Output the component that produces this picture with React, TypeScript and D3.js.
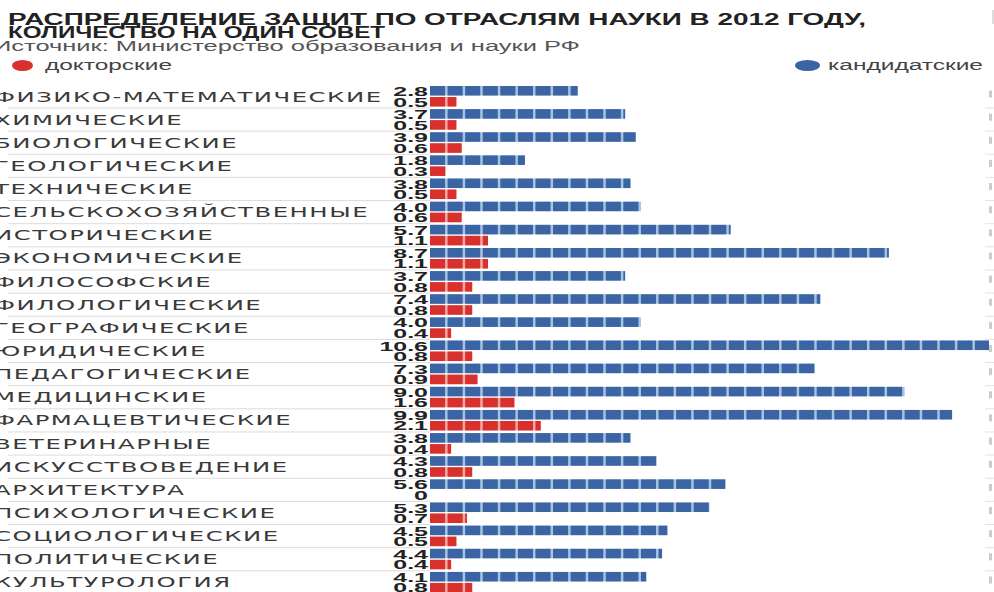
import React from "react";
import * as d3 from "d3";

const categories = [
  "ФИЗИКО-МАТЕМАТИЧЕСКИЕ",
  "ХИМИЧЕСКИЕ",
  "БИОЛОГИЧЕСКИЕ",
  "ГЕОЛОГИЧЕСКИЕ",
  "ТЕХНИЧЕСКИЕ",
  "СЕЛЬСКОХОЗЯЙСТВЕННЫЕ",
  "ИСТОРИЧЕСКИЕ",
  "ЭКОНОМИЧЕСКИЕ",
  "ФИЛОСОФСКИЕ",
  "ФИЛОЛОГИЧЕСКИЕ",
  "ГЕОГРАФИЧЕСКИЕ",
  "ЮРИДИЧЕСКИЕ",
  "ПЕДАГОГИЧЕСКИЕ",
  "МЕДИЦИНСКИЕ",
  "ФАРМАЦЕВТИЧЕСКИЕ",
  "ВЕТЕРИНАРНЫЕ",
  "ИСКУССТВОВЕДЕНИЕ",
  "АРХИТЕКТУРА",
  "ПСИХОЛОГИЧЕСКИЕ",
  "СОЦИОЛОГИЧЕСКИЕ",
  "ПОЛИТИЧЕСКИЕ",
  "КУЛЬТУРОЛОГИЯ",
];

const candidate = [2.8, 3.7, 3.9, 1.8, 3.8, 4.0, 5.7, 8.7, 3.7, 7.4, 4.0, 10.6, 7.3, 9.0, 9.9, 3.8, 4.3, 5.6, 5.3, 4.5, 4.4, 4.1];
const doctor = [0.5, 0.5, 0.6, 0.3, 0.5, 0.6, 1.1, 1.1, 0.8, 0.8, 0.4, 0.8, 0.9, 1.6, 2.1, 0.4, 0.8, 0, 0.7, 0.5, 0.4, 0.8];

const title1 = "РАСПРЕДЕЛЕНИЕ ЗАЩИТ ПО ОТРАСЛЯМ НАУКИ В 2012 ГОДУ,";
const title2 = "КОЛИЧЕСТВО НА ОДИН СОВЕТ";
const source = "Источник: Министерство образования и науки РФ";
const legendDoctor = "докторские";
const legendCandidate = "кандидатские";
const unitStep = 1 / 3; // one square = 1/3 defence

const W = 994;
const H = 592;
const BLUE = "#3a64a3";
const BLUE_LIGHT = "#a8c2e2";
const RED = "#d8302c";
const RED_LIGHT = "#f2a9a6";

function fmt(v: number) {
  return v === 0 ? "0" : v.toFixed(1);
}

function SquareBar({ value, x, y, h, fill, light }: any) {
  if (value <= 0) return null;
  const end = x(value);
  const x0 = x(0);
  const step = x(unitStep) - x0;
  const n = Math.ceil(value / unitStep - 1e-9);
  const squares = d3.range(n).map((i) => {
    const sx = x0 + i * step;
    const ex = Math.min(sx + step - 2.5, end);
    return { sx, w: Math.max(0, ex - sx) };
  });
  return (
    <g>
      <rect x={x0} y={y} width={end - x0} height={h} fill={light} />
      {squares.map((s, i) => (
        <rect key={i} x={s.sx} y={y} width={s.w} height={h} fill={fill} />
      ))}
    </g>
  );
}

export default function App() {
  const x = d3.scaleLinear().domain([0, 10.6]).range([430, 989]);
  const y = d3
    .scaleBand<number>()
    .domain(d3.range(categories.length))
    .range([84.5, 84.5 + 23.14 * categories.length])
    .padding(0);

  return (
    <svg
      width={W}
      height={H}
      style={{ position: "absolute", left: 0, top: 0, display: "block", background: "#fff" }}
      fontFamily="'Liberation Sans', Arial, sans-serif"
    >
      <rect width={W} height={H} fill="#fff" />
      {/* title */}
      <text x={8} y={24.5} fontSize={16} fontWeight="bold" fill="#222" textLength={858} lengthAdjust="spacingAndGlyphs">
        {title1}
      </text>
      <text x={8} y={37.5} fontSize={16} fontWeight="bold" fill="#222" textLength={377} lengthAdjust="spacingAndGlyphs">
        {title2}
      </text>
      <text x={-7} y={50.5} fontSize={14} fill="#555" textLength={587} lengthAdjust="spacingAndGlyphs">
        {source}
      </text>
      {/* legend */}
      <ellipse cx={22.5} cy={65.5} rx={10.5} ry={5.5} fill={RED} />
      <text x={45} y={70} fontSize={14} fill="#444" textLength={127} lengthAdjust="spacingAndGlyphs">
        {legendDoctor}
      </text>
      <ellipse cx={807.5} cy={65.5} rx={12.5} ry={5.5} fill={BLUE} />
      <text x={828} y={70} fontSize={14} fill="#444" textLength={155} lengthAdjust="spacingAndGlyphs">
        {legendCandidate}
      </text>
      <line x1={993} x2={993} y1={10} y2={24} stroke="#bbb" />

      {categories.map((c, i) => {
        const top = y(i)!;
        return (
          <g key={c}>
            <line x1={8} x2={430} y1={top + 23.5} y2={top + 23.5} stroke="#dcdcdc" strokeWidth={1} />
            <text
              transform={`translate(-6,${top + 17}) scale(1.68,1)`}
              fontFamily="'DejaVu Sans', sans-serif"
              fontSize={14.5}
              letterSpacing={0.9}
              fill="#3a3a3a"
            >
              {c}
            </text>
            <text transform={`translate(428,${top + 11.5}) scale(1.85,1)`} textAnchor="end" fontSize={13.5} fontWeight="bold" fill="#222">
              {fmt(candidate[i])}
            </text>
            <text transform={`translate(428,${top + 22}) scale(1.85,1)`} textAnchor="end" fontSize={13.5} fontWeight="bold" fill="#222">
              {fmt(doctor[i])}
            </text>
            <SquareBar value={candidate[i]} x={x} y={top + 1.5} h={9.5} fill={BLUE} light={BLUE_LIGHT} />
            <SquareBar value={doctor[i]} x={x} y={top + 12.5} h={9.5} fill={RED} light={RED_LIGHT} />
            {/* cropped neighbour column at right edge */}
            <rect x={989} y={top + 6} width={3} height={7} fill="#999" opacity={0.5} />
            <line x1={985} x2={994} y1={top + 23.5} y2={top + 23.5} stroke="#e4e4e4" />
          </g>
        );
      })}
    </svg>
  );
}
